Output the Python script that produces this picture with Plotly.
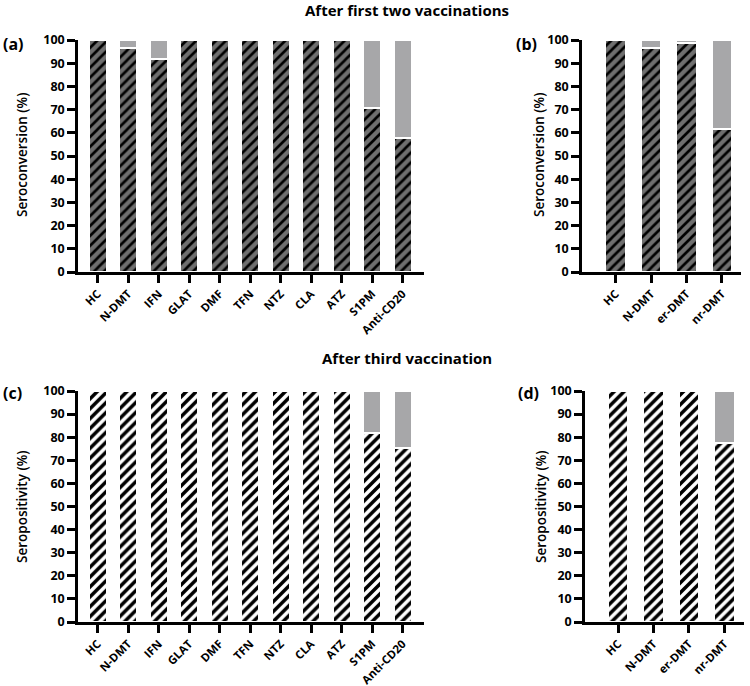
import plotly.graph_objects as go

# ---- data ----
cats_all = ["HC", "N-DMT", "IFN", "GLAT", "DMF", "TFN", "NTZ", "CLA", "ATZ", "S1PM", "Anti-CD20"]
cats_sub = ["HC", "N-DMT", "er-DMT", "nr-DMT"]

seroconv_all = [100, 96.5, 92, 100, 100, 100, 100, 100, 100, 70.8, 57.8]
seroconv_sub = [100, 96.4, 98.9, 61.8]
seropos_all = [100, 100, 100, 100, 100, 100, 100, 100, 100, 81.7, 75.4]
seropos_sub = [100, 100, 100, 77.4]

yticks = [0, 10, 20, 30, 40, 50, 60, 70, 80, 90, 100]

W, H = 750, 686
FONT = "Open Sans"
GREY = "#a7a7a9"

fig = go.Figure()

panels = [
    # (cats, values, xaxis id, yaxis id, bgcolor, solidity, width)
    (cats_all, seroconv_all, "x", "y", "#6f6f6f", 0.38, 0.59),
    (cats_sub, seroconv_sub, "x2", "y2", "#6f6f6f", 0.38, 0.585),
    (cats_all, seropos_all, "x3", "y3", "#ffffff", 0.5, 0.59),
    (cats_sub, seropos_sub, "x4", "y4", "#ffffff", 0.5, 0.585),
]

for cats, vals, xa, ya, bg, sol, wd in panels:
    fig.add_trace(go.Bar(
        x=cats, y=vals, xaxis=xa, yaxis=ya, width=wd,
        marker=dict(color=bg,
                    pattern=dict(shape="/", fgcolor="#000000", bgcolor=bg,
                                 size=7, solidity=sol, fillmode="replace"),
                    line=dict(color="white", width=2)),
        showlegend=False, hoverinfo="x+y",
    ))
    rest = [100 - v for v in vals]
    fig.add_trace(go.Bar(
        x=cats, y=rest, xaxis=xa, yaxis=ya, width=wd,
        marker=dict(color=GREY, line=dict(color="white", width=2)),
        showlegend=False, hoverinfo="x+y",
    ))


def px_dom(a, b, total):
    return [a / total, b / total]


def ydom(top_px, bot_px):
    return [1 - bot_px / H, 1 - top_px / H]


axis_common = dict(showline=True, linecolor="black", linewidth=2.5, ticks="outside",
                   tickcolor="black", tickwidth=2.5, ticklen=8, showgrid=False,
                   zeroline=False, mirror=False, automargin=False)
xtickfont = dict(family=FONT, size=11.5, color="black", weight="bold")
ytickfont = dict(family=FONT, size=12.5, color="black", weight="bold")

layout = dict(
    width=W, height=H, margin=dict(l=0, r=0, t=0, b=0, autoexpand=False),
    paper_bgcolor="white", plot_bgcolor="white", barmode="stack", bargap=0.4,
    showlegend=False,
)

xspecs = [
    ("xaxis", px_dom(78, 424, W), [-0.646, 10.70], "y"),
    ("xaxis2", px_dom(582, 741, W), [-0.95, 3.54], "y2"),
    ("xaxis3", px_dom(78, 424, W), [-0.646, 10.70], "y3"),
    ("xaxis4", px_dom(585, 744, W), [-0.93, 3.55], "y4"),
]
yspecs = [
    ("yaxis", ydom(40, 272), "x"),
    ("yaxis2", ydom(40, 272), "x2"),
    ("yaxis3", ydom(391, 622), "x3"),
    ("yaxis4", ydom(391, 622), "x4"),
]
for name, dom, rng, anchor in xspecs:
    layout[name] = dict(domain=dom, range=rng, anchor=anchor, tickangle=-45,
                        tickfont=xtickfont, type="category", **axis_common)
for name, dom, anchor in yspecs:
    layout[name] = dict(domain=dom, range=[0, 100], anchor=anchor, tickvals=yticks,
                        tickfont=ytickfont, **axis_common)

fig.update_layout(**layout)

ann = []
# section titles
ann.append(dict(text="After first two vaccinations", x=407 / W, y=1 - 10 / H,
                font=dict(family=FONT, size=15, color="black", weight="bold")))
ann.append(dict(text="After third vaccination", x=407 / W, y=1 - 358 / H,
                font=dict(family=FONT, size=15, color="black", weight="bold")))
# panel labels
for lab, xp, yp in [("(a)", 13, 44), ("(b)", 526, 44), ("(c)", 12, 393), ("(d)", 528, 393)]:
    ann.append(dict(text=lab, x=xp / W, y=1 - yp / H,
                    font=dict(family=FONT, size=16, color="black", weight="bold")))
# y titles
for lab, xp, yp in [("Seroconversion (%)", 22, 155), ("Seroconversion (%)", 539, 155),
                    ("Seropositivity (%)", 22, 507), ("Seropositivity (%)", 541, 507)]:
    ann.append(dict(text=lab, x=xp / W, y=1 - yp / H, textangle=-90,
                    font=dict(family=FONT, size=13.5, color="black", weight=600)))

for a in ann:
    a.update(xref="paper", yref="paper", showarrow=False, xanchor="center", yanchor="middle")
fig.update_layout(annotations=ann)

fig.write_html("out.html", config={"displayModeBar": False},
               post_script="document.body.style.margin='0';")
